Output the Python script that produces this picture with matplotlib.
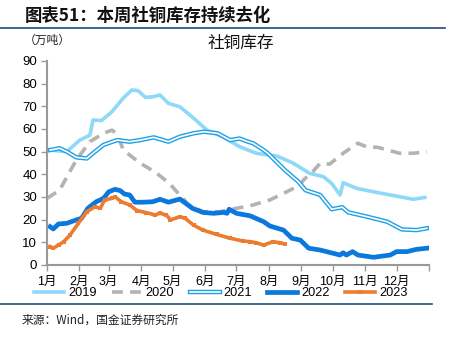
import matplotlib
matplotlib.use("Agg")
import matplotlib.pyplot as plt
from matplotlib.lines import Line2D
from matplotlib.legend_handler import HandlerTuple

plt.rcParams['font.family'] = ['Liberation Sans', 'Noto Sans CJK SC', 'DejaVu Sans']

# Day-of-year positions and inventory values (万吨) for each year
days_2019 = [3, 19, 31, 41, 44, 52, 62, 73, 81, 87, 94, 101, 108, 116, 127, 140, 153,
             168, 184, 200, 220, 235, 251, 264, 272, 280, 283, 296, 312, 328, 350, 361]
vals_2019 = [50.7, 50, 55, 57.3, 64, 63.7, 67.6, 73.7, 77.2, 76.9, 74, 74.2, 75, 71.3,
             69.8, 64.8, 59.5, 56.6, 52.2, 49.3, 48, 45, 40.4, 39, 36, 30.9, 36.3, 33.8,
             32.3, 30.9, 29, 29.8]

days_2020 = [0, 12, 28, 41, 54, 62, 67, 73, 89, 100, 105, 117, 124, 129, 135, 149, 165,
             181, 197, 213, 229, 242, 245, 254, 261, 270, 283, 297, 305, 316, 328, 337,
             350, 363]
vals_2020 = [29.4, 33, 46.3, 54.4, 58.1, 59.5, 57.8, 50.7, 44.9, 41.9, 40.4, 36, 32.3,
             30.1, 26.5, 23.5, 23.5, 25, 26.5, 28.7, 32.3, 35.3, 37.5, 41.2, 44.9, 44.5,
             49.3, 53.7, 52.2, 51.9, 50.4, 49.3, 49.3, 50]

days_2021 = [3, 12, 19, 28, 38, 44, 54, 67, 79, 89, 102, 111, 116, 127, 140, 150, 163,
             175, 184, 192, 197, 207, 211, 227, 240, 247, 261, 272, 282, 288, 306, 325,
             339, 353, 363]
vals_2021 = [50.7, 51.5, 50, 47.5, 47, 49.3, 53, 55.1, 54.4, 55.1, 56.3, 55.1, 54.4,
             56.6, 58.1, 58.8, 58.1, 55.1, 55.8, 54.4, 53.7, 50.7, 49.3, 42, 36.8, 33,
             30.9, 24.6, 25.5, 23.2, 21.3, 19.1, 15.7, 15.4, 16.2]

days_2022 = [3, 6, 11, 19, 28, 33, 39, 47, 54, 59, 65, 70, 74, 79, 84, 92, 101, 108, 116,
             127, 139, 149, 159, 169, 172, 174, 181, 194, 207, 213, 226, 234, 242, 250,
             261, 280, 283, 286, 292, 297, 312, 328, 334, 344, 353, 363]
vals_2022 = [16.9, 15.9, 18.1, 18.4, 19.9, 20.6, 25, 27.9, 29.4, 32.3, 33.4, 32.8, 31.3,
             30.9, 27.7, 27.7, 27.9, 29, 27.7, 29.1, 25, 23.2, 22.8, 23.2, 22.8, 24.6,
             22.8, 21.7, 19.1, 17.2, 15.4, 11.8, 11, 7.4, 6.6, 4.4, 5.4, 4.4, 5.9, 4.4,
             3.4, 4.4, 5.9, 5.9, 6.9, 7.4]

days_2023 = [3, 6, 11, 16, 22, 30, 38, 46, 51, 55, 62, 65, 71, 79, 86, 95, 103, 108, 114,
             118, 127, 132, 140, 149, 162, 175, 187, 194, 200, 207, 216, 223, 227]
vals_2023 = [8.1, 7.4, 8.8, 10.3, 13.2, 18.4, 23.5, 25.7, 25, 28.7, 29.4, 30.1, 27.9,
             26.5, 24, 23.1, 22.1, 22.8, 22.1, 19.9, 21.3, 20.6, 17.6, 15.4, 13.5, 11.8,
             10.6, 10.3, 9.8, 8.8, 10.3, 9.8, 9.3]

month_starts = [0, 31, 59, 90, 120, 151, 181, 212, 243, 273, 304, 334, 365]
month_labels = ['1月', '2月', '3月', '4月', '5月', '6月', '7月', '8月', '9月', '10月',
                '11月', '12月', '']
y_ticks = [0, 10, 20, 30, 40, 50, 60, 70, 80, 90]

c2019 = '#8fd9f8'
c2020 = '#b3b3b3'
c2021 = '#1ea0e6'
c2022 = '#0a78dc'
c2023 = '#ec7c30'
navy = '#1f4e79'

fig = plt.figure(figsize=(4.58, 3.40), dpi=100)
ax = fig.add_axes([0.1026, 0.2206, 0.8341, 0.60])

ax.plot(days_2019, vals_2019, color=c2019, lw=2.6, solid_joinstyle='round')
ax.plot(days_2020, vals_2020, color=c2020, lw=2.6, ls=(0, (3, 2)))
ax.plot(days_2021, vals_2021, color=c2021, lw=3.2, solid_joinstyle='round')
ax.plot(days_2021, vals_2021, color='white', lw=1.2, solid_joinstyle='round')
ax.plot(days_2022, vals_2022, color=c2022, lw=3.4, solid_joinstyle='round')
ax.plot(days_2023, vals_2023, color=c2023, lw=2.6, marker='s', ms=2.5, mew=0)

ax.set_xlim(0, 365)
ax.set_ylim(0, 90)
ax.set_xticks(month_starts)
ax.set_xticklabels(month_labels, fontsize=9)
ax.set_yticks(y_ticks)
ax.tick_params(axis='y', labelsize=9.5, length=4, width=1, color='#999999', pad=3)
ax.tick_params(axis='x', length=4, width=1, color='#999999', pad=4)
for s in ['top', 'right']:
    ax.spines[s].set_visible(False)
for s in ['left', 'bottom']:
    ax.spines[s].set_color('#999999')
    ax.spines[s].set_linewidth(1.5)

# Legend entries; the 2021 line is a blue outline with a white core
h2019 = Line2D([], [], color=c2019, lw=2.6)
h2020 = Line2D([], [], color=c2020, lw=2.6, ls=(0, (3, 2)))
h2021 = (Line2D([], [], color=c2021, lw=3.2), Line2D([], [], color='white', lw=1.2))
h2022 = Line2D([], [], color=c2022, lw=3.4)
h2023 = Line2D([], [], color=c2023, lw=2.6, marker='s', ms=2.5, mew=0, markevery=[1])
fig.legend([h2019, h2020, h2021, h2022, h2023], ['2019', '2020', '2021', '2022', '2023'],
           handler_map={tuple: HandlerTuple(ndivide=1)},
           loc='center', bbox_to_anchor=(0.482, 0.137), ncol=5, frameon=False,
           fontsize=9.2, handlelength=2.35, handletextpad=0.3, columnspacing=1.2)

fig.text(0.055, 0.952, '图表51：本周社铜库存持续去化', fontsize=12.5, fontweight='bold',
         family=['Noto Sans CJK SC'], color='#111111', va='center', style='italic')
fig.add_artist(Line2D([0, 0.972], [0.918, 0.918], color=navy, lw=1.2))
fig.add_artist(Line2D([0, 0.943], [0.107, 0.107], color=navy, lw=1.2))

fig.text(0.052, 0.882, '（万吨）', fontsize=8.5, family=['Noto Sans CJK SC'],
         color='#222222', va='center')
fig.text(0.525, 0.872, '社铜库存', fontsize=12, family=['Noto Sans CJK SC'],
         color='#111111', va='center', ha='center')
fig.text(0.048, 0.058, '来源：Wind，国金证券研究所', fontsize=8.5,
         family=['Noto Sans CJK SC'], color='#222222', va='center')

fig.savefig('out.png', dpi=100)
